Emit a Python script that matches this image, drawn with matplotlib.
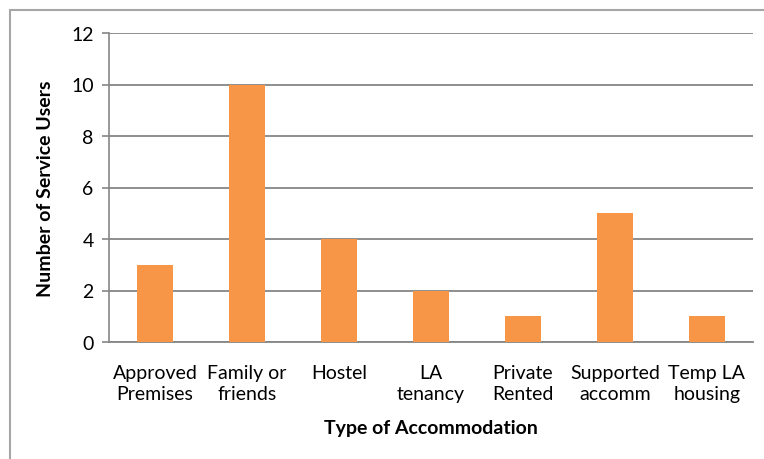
import matplotlib
matplotlib.use('Agg')
import matplotlib.pyplot as plt
from matplotlib.patches import Rectangle

categories = ["Approved\nPremises", "Family or\nfriends", "Hostel", "LA\ntenancy",
              "Private\nRented", "Supported\naccomm", "Temp LA\nhousing"]
users = [3, 10, 4, 2, 1, 5, 1]
yticks = [0, 2, 4, 6, 8, 10, 12]

plt.rcParams['font.family'] = ['Lato', 'DejaVu Sans']

W, H = 764, 460
fig = plt.figure(figsize=(W / 100, H / 100), dpi=100)
ax = fig.add_axes([109 / W, 1 - 343 / H, (753 - 109) / W, (343 - 34) / H])

# outer chart frame (clipped on right and bottom)
fig.patches.append(Rectangle((9.5 / W, -0.1), 1.2, 1 - 10.5 / H + 0.1, transform=fig.transFigure,
                             fill=False, edgecolor='#a6a6a6', linewidth=1.5))

x = range(len(categories))
ax.bar(x, users, width=0.4, color='#F79646', zorder=3)
ax.set_xlim(-0.5, len(categories) - 0.5)
ax.set_ylim(0, 12)
ax.set_yticks(yticks)
ax.set_xticks(list(x))
ax.set_xticklabels(categories, fontsize=14, linespacing=1.3)
ax.tick_params(axis='y', labelsize=14, length=5, width=1.2, color='#868686', pad=6)
ax.tick_params(axis='x', length=0, pad=16)
ax.yaxis.grid(True, color='#868686', linewidth=1.3, zorder=0)
ax.set_axisbelow(True)
for s in ['top', 'right']:
    ax.spines[s].set_visible(False)
ax.spines['left'].set_color('#868686')
ax.spines['left'].set_linewidth(1.2)
ax.spines['bottom'].set_color('#868686')
ax.spines['bottom'].set_linewidth(1.3)

ax.set_ylabel("Number of Service Users", fontsize=14, fontweight='bold', labelpad=12)
ax.set_xlabel("Type of Accommodation", fontsize=14, fontweight='bold', labelpad=12)

fig.savefig("out.png", dpi=100)
